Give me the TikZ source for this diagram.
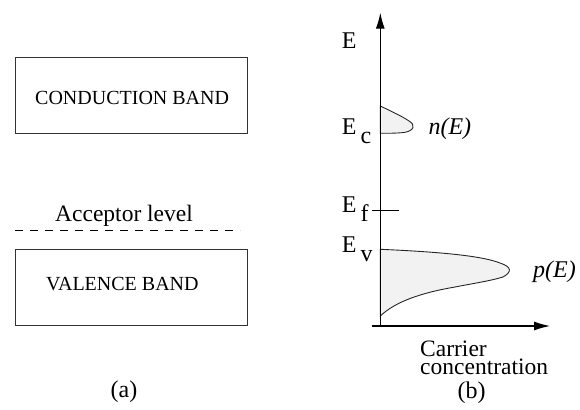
\documentclass[tikz,border=0pt]{standalone}
\usepackage{fontspec}
\setmainfont{Liberation Serif}
\usetikzlibrary{arrows.meta}
\definecolor{humpfill}{HTML}{F2F2F2}
\definecolor{boxline}{HTML}{333333}
\tikzset{
  bandbox/.style={draw=boxline, line width=0.9pt},
  bandtext/.style={anchor=base west, inner sep=0pt, font=\fontsize{20}{24}\selectfont},
  lbl/.style={anchor=base west, inner sep=0pt, font=\fontsize{24}{28}\selectfont},
  axis/.style={line width=1.2pt, -{Latex[length=16pt,width=9pt]}},
  hump/.style={draw=black!85, fill=humpfill, line width=0.9pt},
}
\newcommand{\sublow}[1]{\,\raisebox{-9pt}{#1}}
\begin{document}
\begin{tikzpicture}[x=1pt,y=-1pt]
\useasboundingbox (0,0) rectangle (580,409);
% (a) band diagram
\draw[bandbox] (15,57) rectangle (247,133);
\draw[bandbox] (15,249) rectangle (247,325);
\node[bandtext] (cb) at (35,105) {CONDUCTION BAND};
\node[bandtext] (vb) at (46,290) {VALENCE BAND};
\coordinate (accL) at (15,230);
\coordinate (accR) at (240,230);
\draw[line width=0.8pt, dash pattern=on 8pt off 7pt] (accL) -- (accR);
\node[lbl, font=\fontsize{23.5}{28}\selectfont] (acc) at (55,221.5) {Acceptor level};
\node[lbl, anchor=center] (la) at (124,392) {(a)};
% (b) carrier concentration
\coordinate (orig) at (380.3,326);
\coordinate (ytop) at (380.3,12.7);
\coordinate (xleft) at (371.7,326);
\coordinate (xright) at (550,326);
\draw[hump] (380.3,106) .. controls (395,113) and (403,117) .. (409,121)
  .. controls (416,125) and (414,131) .. (404,132.5)
  .. controls (396,133.3) and (388,133.3) .. (380.3,133.3) -- cycle;
\draw[hump] (380.3,249.3) .. controls (430,251.5) and (480,255) .. (500,263)
  .. controls (512,267) and (512,272) .. (503,277)
  .. controls (490,281) and (470,284) .. (455,287)
  .. controls (420,293) and (395,302) .. (380.3,316) -- cycle;
\draw[axis] (orig) -- (ytop);
\draw[axis] (xleft) -- (xright);
\coordinate (efL) at (371.7,210.7);
\coordinate (efR) at (399.3,210.7);
\draw[line width=0.8pt] (efL) -- (efR);
\node[lbl] (E) at (341.7,48.5) {E};
\node[lbl] (Ec) at (341.7,134) {E\sublow{c}};
\node[lbl] (Ef) at (341.7,212.5) {E\sublow{f}};
\node[lbl] (Ev) at (341.7,252) {E\sublow{v}};
\node[lbl] (nE) at (428.3,134) {\itshape n(E)};
\node[lbl] (pE) at (533,277) {\itshape p(E)};
\node[anchor=north west, inner sep=0pt, align=left, font=\fontsize{23.5}{18}\selectfont] (car) at (420,341) {Carrier\\concentration};
\node[lbl, anchor=center] (lb) at (471.5,393) {(b)};
\end{tikzpicture}
\end{document}
